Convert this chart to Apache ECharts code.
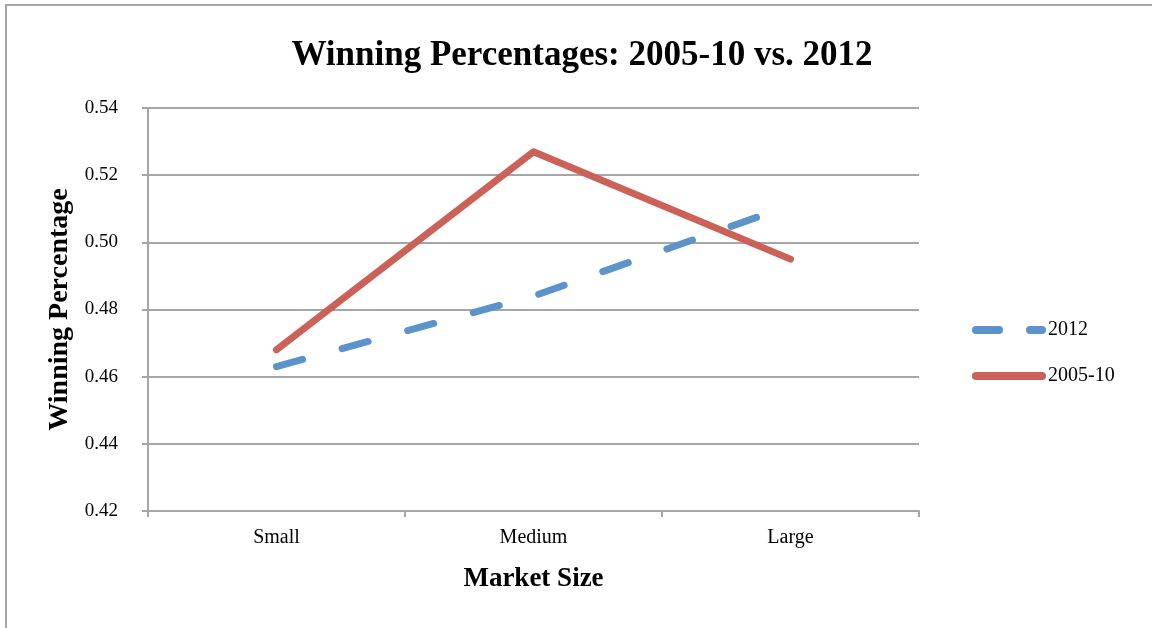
<!DOCTYPE html>
<html>
<head>
<meta charset="utf-8">
<script src="https://cdn.jsdelivr.net/npm/echarts@6/dist/echarts.min.js"></script>
<style>
  html, body { margin: 0; padding: 0; background: #fff; }
  #chart { width: 1152px; height: 628px; }
</style>
</head>
<body>
<div id="chart"></div>
<script>
// market size categories
const categories = ["Small", "Medium", "Large"];
// winning percentage values
const values2012 = [0.463, 0.484, 0.511];
const values2005to10 = [0.468, 0.527, 0.495];
const yTicks = { min: 0.42, max: 0.54, interval: 0.02 };

const FONT = "Liberation Serif";
const BLUE = "#5B93CA";
const RED = "#CB6158";

// legend icons: dashed and solid bars with round ends
const dashIcon = "path://M4,0 L27,0 A4,4 0 0 1 27,8 L4,8 A4,4 0 0 1 4,0 Z M58,0 L70,0 A4,4 0 0 1 70,8 L58,8 A4,4 0 0 1 58,0 Z";
const solidIcon = "path://M4,0 L70,0 A4,4 0 0 1 70,8 L4,8 A4,4 0 0 1 4,0 Z";

let chart = echarts.init(document.getElementById("chart"), null, { renderer: "canvas" });

const options = {
  backgroundColor: "#fff",
  animation: false,
  title: {
    text: "Winning Percentages: 2005-10 vs. 2012",
    left: 577,
    top: 33,
    textAlign: "center",
    textStyle: { fontFamily: FONT, fontWeight: "bold", fontSize: 35, color: "#000" },
  },
  graphic: [
    {
      type: "rect",
      shape: { x: 6, y: 5, width: 1200, height: 700 },
      style: { fill: "none", stroke: "#a6a6a6", lineWidth: 2 },
      silent: true,
    },
  ],
  legend: {
    orient: "vertical",
    left: 967,
    top: 315,
    itemWidth: 74,
    itemHeight: 8,
    itemGap: 26,
    textStyle: { fontFamily: FONT, fontSize: 20, color: "#000", padding: [0, 0, 0, -3] },
    data: [
      { name: "2012", icon: dashIcon },
      { name: "2005-10", icon: solidIcon },
    ],
  },
  grid: { left: 148, right: 233, top: 108, bottom: 117 },
  xAxis: {
    type: "category",
    data: categories,
    boundaryGap: true,
    name: "Market Size",
    nameLocation: "middle",
    nameGap: 55,
    nameTextStyle: { fontFamily: FONT, fontWeight: "bold", fontSize: 27, color: "#000" },
    axisLine: { lineStyle: { color: "#a6a6a6", width: 2 } },
    axisTick: { show: true, length: 6, alignWithLabel: false, lineStyle: { color: "#a6a6a6", width: 2 } },
    axisLabel: { fontFamily: FONT, fontSize: 20, color: "#000", margin: 17 },
  },
  yAxis: {
    type: "value",
    min: yTicks.min,
    max: yTicks.max,
    interval: yTicks.interval,
    name: "Winning Percentage",
    nameLocation: "middle",
    nameGap: 64,
    nameTextStyle: { fontFamily: FONT, fontWeight: "bold", fontSize: 28, color: "#000" },
    axisLine: { show: true, lineStyle: { color: "#a6a6a6", width: 2 } },
    axisTick: { show: true, length: 6, lineStyle: { color: "#a6a6a6", width: 2 } },
    axisLabel: {
      fontFamily: FONT,
      fontSize: 19,
      color: "#000",
      margin: 30,
      formatter: (v) => v.toFixed(2),
    },
    splitLine: { lineStyle: { color: "#a6a6a6", width: 2 } },
  },
  series: [
    {
      name: "2012",
      type: "line",
      data: values2012,
      symbol: "none",
      color: BLUE,
      lineStyle: { color: BLUE, width: 7, type: [27, 41], cap: "round", join: "round" },
    },
    {
      name: "2005-10",
      type: "line",
      data: values2005to10,
      symbol: "none",
      color: RED,
      lineStyle: { color: RED, width: 7, cap: "round", join: "round" },
    },
  ],
};

chart.setOption(options);
</script>
</body>
</html>
